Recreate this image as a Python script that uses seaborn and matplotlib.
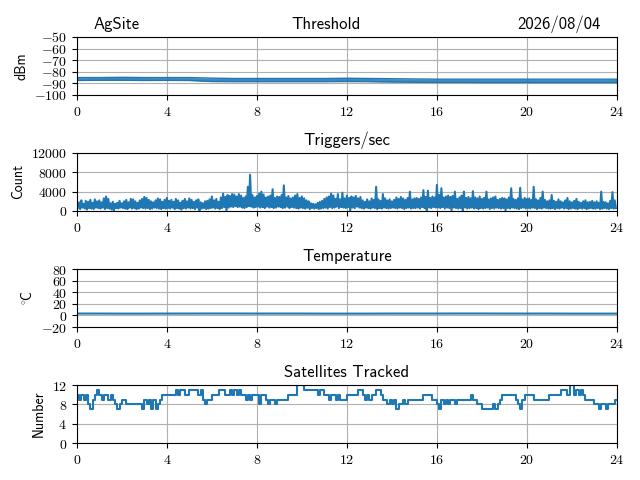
import numpy as np
import pandas as pd
import matplotlib
matplotlib.use("Agg")
import matplotlib.pyplot as plt
from matplotlib.ticker import FuncFormatter, MultipleLocator
import seaborn as sns

# ---------------- data ----------------
site_name = "AgSite"
date_label = "2026/08/04"
panel_titles = ["Threshold", "Triggers/sec", "Temperature", "Satellites Tracked"]
panel_ylabels = ["dBm", "Count", r"$^{\circ}\!$C", "Number"]

hours = list(range(25))

# Threshold band (dBm), hourly upper and lower edges
thr_hi = [-85.0, -85.0, -84.8, -85.0, -85.0, -85.0, -85.5, -85.8, -85.8, -85.8,
          -85.8, -85.8, -85.6, -85.8, -86.0, -86.2, -86.4, -86.4, -86.4, -86.4,
          -86.4, -86.4, -86.4, -86.4, -86.4]
thr_lo = [-87.5, -87.3, -87.3, -87.5, -87.4, -87.5, -88.4, -88.5, -88.5, -88.5,
          -88.5, -88.5, -88.4, -88.5, -88.8, -89.0, -89.2, -89.2, -89.3, -89.3,
          -89.3, -89.3, -89.3, -89.3, -89.3]

# Triggers/sec, peaks and troughs every 0.1 h
trig_hi = [
    2000, 1800, 2200, 1500, 2100, 1900, 2300, 1700, 2400, 2000,
    2200, 1800, 2600, 3000, 2500, 1600, 1900, 1500, 1700, 2100,
    1600, 2000, 2300, 1800, 2500, 2400, 2000, 1700, 2200, 2500,
    2900, 2700, 2300, 2000, 1800, 2200, 2600, 2400, 1900, 2300,
    2700, 2100, 2300, 1900, 2500, 2200, 1700, 2100, 2500, 2000,
    2600, 2300, 1900, 2200, 2400, 1800, 1600, 2000, 2100, 2400,
    3000, 2200, 2500, 1900, 2800, 3600, 2900, 3300, 3100, 3500,
    3400, 3000, 3500, 3200, 2700, 3000, 5000, 7500, 3300, 2800,
    3100, 3600, 4000, 3400, 2800, 3000, 3200, 4500, 2700, 3000,
    2900, 3300, 5300, 2800, 3100, 2600, 2800, 3200, 3500, 2700,
    3000, 2600, 2200, 2000, 1600, 1500, 1400, 1700, 1900, 2100,
    2500, 2800, 3000, 3600, 3200, 2500, 3500, 2400, 3800, 2600,
    3200, 2700, 3000, 2800, 3100, 2600, 2900, 2200, 1900, 2400,
    2000, 2600, 2300, 5000, 2400, 2100, 3500, 2600, 2200, 2400,
    2000, 2300, 2800, 2500, 2900, 2600, 2300, 2700, 4000, 2400,
    2600, 2700, 2500, 2800, 4300, 2900, 4200, 2700, 3000, 2800,
    5400, 3300, 4700, 2800, 3000, 3200, 2900, 3100, 4000, 2500,
    2800, 3200, 4000, 2700, 2900, 2600, 4100, 2800, 2600, 3000,
    2500, 2700, 4000, 2400, 2600, 2800, 3000, 2300, 2500, 2700,
    2600, 2400, 2800, 4700, 2500, 2300, 2600, 4800, 2400, 2700,
    2500, 2600, 2300, 5000, 2400, 2200, 2700, 4000, 2300, 2000,
    2200, 3300, 2100, 1900, 2400, 2000, 1800, 2200, 2700, 2000,
    1800, 2100, 2500, 1900, 1700, 2000, 2200, 1800, 1900, 2100,
    1800, 2000, 1700, 4000, 1900, 1800, 1600, 2100, 3900, 2200,
]
trig_lo = [
    600, 400, 700, 500, 300, 600, 500, 400, 700, 600,
    500, 700, 400, 600, 500, 300, 100, 600, 500, 700,
    600, 500, 400, 700, 500, 600, 400, 500, 700, 600,
    500, 600, 400, 500, 700, 600, 500, 400, 600, 500,
    600, 500, 700, 400, 600, 500, 300, 600, 500, 700,
    500, 600, 400, 700, 100, 500, 600, 400, 500, 600,
    700, 500, 600, 400, 600, 800, 100, 700, 900, 800,
    1000, 800, 900, 700, 600, 800, 1000, 900, 700, 800,
    900, 700, 800, 600, 900, 700, 800, 600, 700, 900,
    800, 600, 700, 900, 600, 800, 700, 600, 500, 700,
    600, 500, 700, 400, 600, 500, 600, 400, 500, 600,
    700, 500, 800, 600, 700, 900, 600, 800, 700, 600,
    800, 100, 700, 600, 900, 700, 600, 500, 700, 600,
    500, 700, 600, 400, 600, 500, 700, 600, 500, 600,
    700, 600, 500, 700, 600, 400, 600, 700, 500, 600,
    600, 700, 500, 800, 600, 100, 700, 600, 800, 700,
    700, 600, 800, 500, 700, 600, 100, 700, 600, 500,
    600, 100, 700, 500, 600, 700, 500, 600, 400, 600,
    500, 600, 700, 400, 600, 500, 700, 600, 500, 600,
    100, 600, 500, 700, 600, 500, 400, 600, 700, 500,
    600, 500, 700, 600, 400, 600, 500, 700, 600, 500,
    500, 600, 400, 600, 500, 700, 500, 600, 400, 500,
    600, 500, 400, 600, 500, 600, 400, 500, 600, 500,
    500, 600, 400, 500, 600, 500, 400, 600, 500, 600,
]

# Temperature (deg C), hourly
temp = [3.2, 3.2, 3.1, 3.1, 3.2, 3.2, 3.3, 3.3, 3.2, 3.2, 3.2, 3.1, 3.1,
        3.1, 3.2, 3.2, 3.2, 3.3, 3.3, 3.2, 3.2, 3.2, 3.1, 3.1, 3.1]

# Satellites tracked, every 0.1 h
sats = [
    10, 9, 10, 9, 10, 8, 7, 9, 10, 11,
    10, 9, 10, 10, 9, 10, 9, 8, 7, 8,
    9, 9, 8, 8, 8, 8, 8, 8, 8, 7,
    9, 8, 9, 7, 9, 7, 8, 9, 10, 10,
    10, 10, 10, 10, 11, 10, 11, 11, 10, 10,
    11, 11, 11, 11, 10, 11, 9, 8, 9, 9,
    10, 10, 10, 11, 11, 11, 10, 10, 11, 10,
    11, 10, 11, 10, 10, 9, 10, 9, 10, 10,
    10, 8, 10, 10, 9, 8, 9, 9, 8, 9,
    9, 9, 9, 9, 10, 10, 10, 10, 12, 12,
    12, 11, 11, 11, 11, 11, 11, 10, 11, 11,
    10, 10, 9, 10, 10, 9, 10, 9, 9, 9,
    10, 10, 10, 10, 10, 11, 11, 10, 9, 10,
    9, 10, 10, 11, 11, 10, 9, 9, 8, 9,
    8, 9, 7, 8, 8, 9, 8, 9, 9, 9,
    9, 9, 9, 9, 10, 10, 10, 10, 9, 9,
    8, 7, 9, 8, 9, 8, 9, 9, 8, 9,
    9, 9, 9, 9, 9, 10, 9, 9, 8, 8,
    7, 7, 7, 7, 7, 8, 7, 8, 9, 10,
    10, 10, 10, 10, 10, 9, 8, 7, 9, 10,
    10, 10, 10, 9, 9, 9, 9, 9, 9, 9,
    10, 10, 10, 10, 10, 11, 11, 11, 10, 12,
    12, 10, 11, 10, 11, 10, 9, 9, 9, 9,
    8, 8, 7, 8, 8, 7, 8, 8, 8, 9,
]

x_ticks = [0, 4, 8, 12, 16, 20, 24]
y_limits = [(-100, -50), (0, 12000), (-20, 80), (0, 12)]
y_steps = [10, 4000, 20, 4]

# ---------------- styling ----------------
plt.rcParams["font.family"] = ["cmss10", "DejaVu Sans"]
plt.rcParams["mathtext.fontset"] = "cm"
plt.rcParams["axes.unicode_minus"] = False
plt.rcParams["axes.formatter.use_mathtext"] = True

color = "#1f77b4"

fig, axes = plt.subplots(4, 1, figsize=(6.4, 4.8), dpi=100)
fig.subplots_adjust(left=0.12, right=0.964, top=0.923, bottom=0.077, hspace=1.0)

# Threshold
ax = axes[0]
ax.fill_between(hours, thr_lo, thr_hi, color=color, lw=0, alpha=0.85)
df_thr = pd.DataFrame({"t": hours, "hi": thr_hi, "lo": thr_lo})
sns.lineplot(data=df_thr, x="t", y="hi", ax=ax, color=color, lw=1.0)
sns.lineplot(data=df_thr, x="t", y="lo", ax=ax, color=color, lw=1.0)

# Triggers zig-zag between peaks and troughs
n = len(trig_hi)
t_hi = np.arange(n) * 0.1
t_lo = t_hi + 0.05
t_all = np.empty(2 * n)
v_all = np.empty(2 * n)
t_all[0::2] = t_hi
t_all[1::2] = t_lo
v_all[0::2] = trig_hi
v_all[1::2] = trig_lo
df_trig = pd.DataFrame({"t": t_all, "v": v_all})
sns.lineplot(data=df_trig, x="t", y="v", ax=axes[1], color=color, lw=1.5,
             estimator=None, sort=False)

# Temperature
df_temp = pd.DataFrame({"t": hours, "v": temp})
sns.lineplot(data=df_temp, x="t", y="v", ax=axes[2], color=color, lw=1.5)

# Satellites
t_s = np.arange(len(sats)) * 0.1
df_sat = pd.DataFrame({"t": np.append(t_s, 24.0), "v": sats + [sats[-1]]})
sns.lineplot(data=df_sat, x="t", y="v", ax=axes[3], color=color, lw=1.5,
             drawstyle="steps-post", estimator=None)

fmt = FuncFormatter(lambda v, p: f"${int(round(v))}$")
for i, ax in enumerate(axes):
    ax.set_xlim(0, 24)
    ax.set_xticks(x_ticks)
    ax.set_ylim(*y_limits[i])
    ax.yaxis.set_major_locator(MultipleLocator(y_steps[i]))
    ax.xaxis.set_major_formatter(fmt)
    ax.yaxis.set_major_formatter(fmt)
    ax.grid(True, color="#b0b0b0", lw=0.8)
    ax.set_axisbelow(True)
    ax.set_xlabel("")
    ax.set_ylabel(panel_ylabels[i])
    if i > 0:
        ax.set_title(panel_titles[i], fontsize=12)
    for s in ax.spines.values():
        s.set_color("black")
        s.set_linewidth(0.8)

# first panel: one title line made of three parts
for txt, xf, ha in [(site_name, 0.031, "left"),
                    (panel_titles[0], 0.461, "center"),
                    (date_label, 0.970, "right")]:
    axes[0].annotate(txt, xy=(xf, 1.0), xycoords="axes fraction",
                     xytext=(0, 6), textcoords="offset points",
                     ha=ha, va="baseline", fontsize=12)

fig.savefig("out.png", dpi=100)
